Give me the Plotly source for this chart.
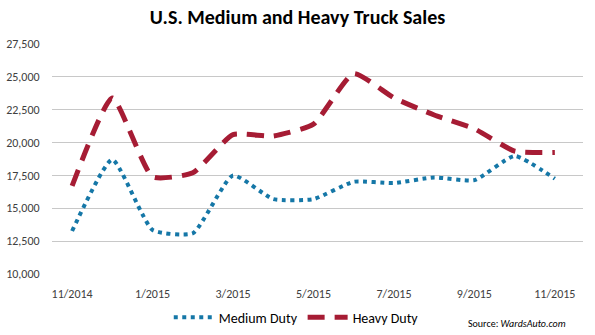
import plotly.graph_objects as go

months = ["11/2014", "12/2014", "1/2015", "2/2015", "3/2015", "4/2015", "5/2015",
          "6/2015", "7/2015", "8/2015", "9/2015", "10/2015", "11/2015"]
medium_duty = [13270, 18700, 13350, 13100, 17500, 15700, 15700,
               17020, 16920, 17350, 17140, 18980, 17250]
heavy_duty = [16700, 23400, 17400, 17700, 20600, 20500, 21400,
              25250, 23400, 22100, 21050, 19350, 19250]
tick_labels = ["11/2014", "1/2015", "3/2015", "5/2015", "7/2015", "9/2015", "11/2015"]
y_ticks = [10000, 12500, 15000, 17500, 20000, 22500, 25000, 27500]

x_idx = list(range(len(months)))
tick_idx = [months.index(t) for t in tick_labels]

FONT = "Carlito, Lato, sans-serif"

fig = go.Figure()
fig.add_trace(go.Scatter(
    x=x_idx, y=medium_duty, name="Medium Duty", mode="lines",
    line=dict(color="#1577A7", width=4, dash="4px,4.5px", shape="spline", smoothing=0.5),
))
fig.add_trace(go.Scatter(
    x=x_idx, y=heavy_duty, name="Heavy Duty", mode="lines",
    line=dict(color="#A61C34", width=5, dash="17px,10px", shape="spline", smoothing=0.5),
))

fig.update_layout(
    width=595, height=335,
    margin=dict(l=52, r=12, t=44, b=61, autoexpand=False),
    paper_bgcolor="white", plot_bgcolor="white",
    font=dict(family=FONT, size=12, color="#404040"),
    title=dict(text="<b>U.S. Medium and Heavy Truck Sales</b>", x=0.5, xanchor="center",
               y=0.95, yanchor="middle", font=dict(family=FONT, size=20, color="#000000")),
    showlegend=True,
    legend=dict(orientation="h", x=0.46, xanchor="center", y=-0.19, yanchor="middle",
                font=dict(family=FONT, size=14, color="#000000"),
                itemwidth=40, traceorder="normal"),
    xaxis=dict(range=[-0.5, 12.7], tickmode="array", tickvals=tick_idx, ticktext=tick_labels,
               showgrid=False, zeroline=False, showline=False,
               ticks="outside", ticklen=9, tickcolor="rgba(0,0,0,0)",
               tickfont=dict(size=12, color="#404040")),
    yaxis=dict(range=[10000, 27500], tickvals=y_ticks, tickformat=",",
               showgrid=True, gridcolor="#C8C8C8", gridwidth=1, zeroline=False,
               showline=False, ticks="outside", ticklen=9, tickcolor="rgba(0,0,0,0)",
               tickfont=dict(size=12, color="#404040")),
    annotations=[dict(text="Source: <i>WardsAuto.com</i>", xref="paper", yref="paper",
                      x=0.875, y=-0.215, xanchor="center", yanchor="middle", showarrow=False,
                      font=dict(family=FONT, size=10, color="#000000"))],
)

fig.write_html("out.html")
